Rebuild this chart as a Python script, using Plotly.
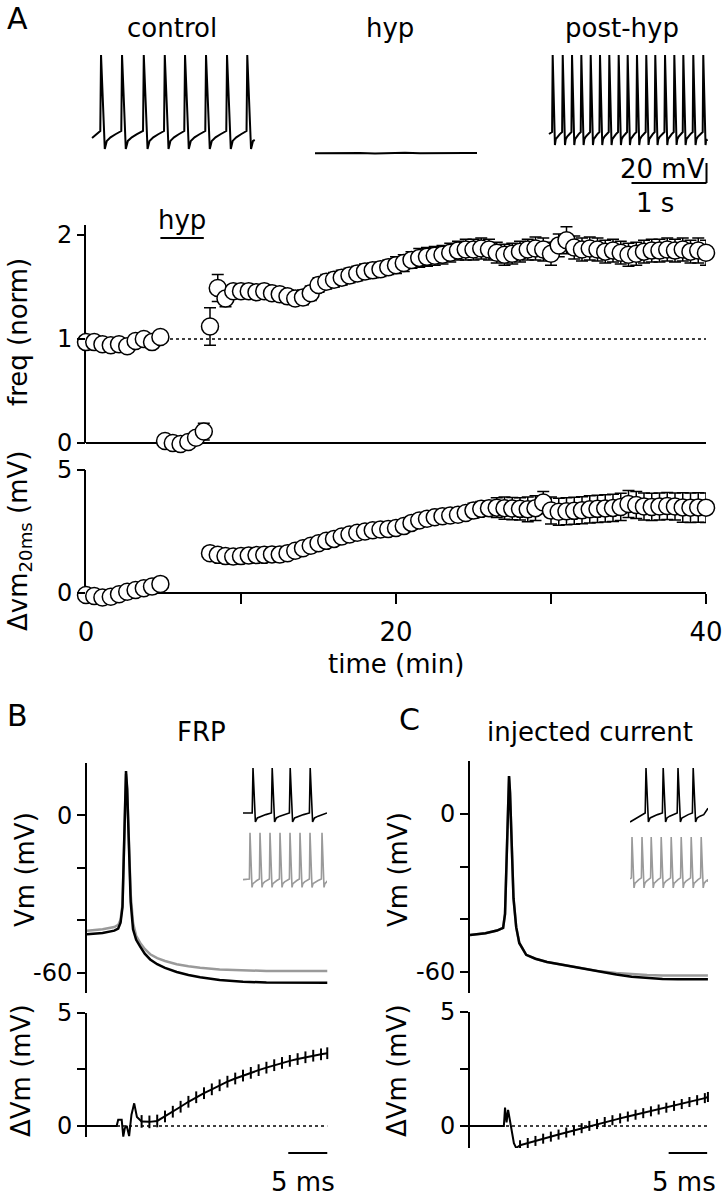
import plotly.graph_objects as go

W, H = 726, 1199
def px(x): return x / W
def py(y): return 1 - y / H

FONT = "DejaVu Sans"
GRAY = "#9a9a9a"

# ---------------- DATA ----------------
# Panel A example recordings (time in s, Vm in mV)
ctrl_spikes_s = [0.12, 0.40, 0.69, 0.97, 1.24, 1.52, 1.80, 2.07]
ctrl_dur_s = 2.17
post_spikes_s = [0.049, 0.183, 0.307, 0.431, 0.556, 0.680, 0.804, 0.929, 1.049,
                 1.173, 1.297, 1.417, 1.547, 1.671, 1.791, 1.924, 2.057]
post_dur_s = 2.11
hyp_t_s = [0.0, 0.2, 0.4, 0.6, 0.8, 1.0, 1.2, 1.4, 1.6, 1.8, 2.0, 2.16]
hyp_vm = [-69.2, -69.0, -69.4, -69.1, -69.5, -69.0, -68.7, -69.2, -68.9, -69.1, -68.9, -69.0]

# Panel A time course (min)
t_ctrl = [0.0, 0.53, 1.06, 1.6, 2.13, 2.66, 3.2, 3.73, 4.26, 4.8]
freq_ctrl = [0.97, 0.97, 0.95, 0.94, 0.95, 0.93, 0.98, 1.00, 0.97, 1.02]
freq_ctrl_err = [0.03, 0.03, 0.03, 0.03, 0.03, 0.03, 0.03, 0.03, 0.03, 0.03]
vm_ctrl = [-0.08, -0.12, -0.18, -0.15, -0.05, 0.05, 0.12, 0.19, 0.26, 0.37]
vm_ctrl_err = [0.05, 0.05, 0.05, 0.05, 0.05, 0.05, 0.05, 0.05, 0.05, 0.05]

t_hyp = [5.1, 5.6, 6.1, 6.6, 7.1, 7.6]
freq_hyp = [0.02, 0.0, -0.01, 0.01, 0.05, 0.11]
freq_hyp_err = [0.02, 0.01, 0.01, 0.02, 0.04, 0.08]

t_post = [8.0, 8.5, 9.0, 9.5, 10.0, 10.5, 11.0, 11.5, 12.0, 12.5, 13.0, 13.5, 14.0,
          14.5, 15.0, 15.5, 16.0, 16.5, 17.0, 17.5, 18.0, 18.5, 19.0, 19.5, 20.0,
          20.5, 21.0, 21.5, 22.0, 22.5, 23.0, 23.5, 24.0, 24.5, 25.0, 25.5, 26.0,
          26.5, 27.0, 27.5, 28.0, 28.5, 29.0, 29.5, 30.0, 30.5, 31.0, 31.5, 32.0,
          32.5, 33.0, 33.5, 34.0, 34.5, 35.0, 35.5, 36.0, 36.5, 37.0, 37.5, 38.0,
          38.5, 39.0, 39.5, 40.0]
freq_post = [1.12, 1.49, 1.39, 1.46, 1.46, 1.46, 1.45, 1.46, 1.44, 1.43, 1.41, 1.39, 1.40,
             1.44, 1.52, 1.55, 1.57, 1.59, 1.61, 1.63, 1.65, 1.66, 1.67, 1.69, 1.71,
             1.73, 1.76, 1.78, 1.79, 1.80, 1.81, 1.83, 1.85, 1.86, 1.86, 1.87, 1.86,
             1.83, 1.81, 1.82, 1.84, 1.86, 1.87, 1.86, 1.82, 1.90, 1.95, 1.88, 1.86,
             1.87, 1.86, 1.84, 1.85, 1.83, 1.81, 1.82, 1.84, 1.85, 1.85, 1.86, 1.85,
             1.86, 1.84, 1.85, 1.83]
freq_post_err = [0.18, 0.13, 0.08, 0.06, 0.06, 0.06, 0.06, 0.06, 0.06, 0.06, 0.06, 0.06, 0.07,
                 0.07, 0.07, 0.07, 0.07, 0.07, 0.07, 0.07, 0.07, 0.07, 0.07, 0.07, 0.08,
                 0.08, 0.08, 0.09, 0.09, 0.09, 0.09, 0.09, 0.09, 0.10, 0.10, 0.10, 0.10,
                 0.10, 0.10, 0.10, 0.10, 0.10, 0.11, 0.11, 0.11, 0.11, 0.13, 0.11, 0.11,
                 0.11, 0.11, 0.11, 0.11, 0.11, 0.11, 0.11, 0.11, 0.11, 0.11, 0.11, 0.11,
                 0.11, 0.11, 0.12, 0.12]
vm_post = [1.62, 1.55, 1.50, 1.48, 1.50, 1.52, 1.54, 1.55, 1.57, 1.56, 1.62, 1.72, 1.82,
           1.92, 2.02, 2.12, 2.20, 2.30, 2.38, 2.45, 2.50, 2.55, 2.58, 2.60, 2.64,
           2.72, 2.85, 2.95, 3.02, 3.08, 3.12, 3.15, 3.18, 3.25, 3.35, 3.42, 3.45,
           3.47, 3.45, 3.43, 3.42, 3.40, 3.45, 3.68, 3.35, 3.30, 3.32, 3.34, 3.36,
           3.40, 3.42, 3.44, 3.46, 3.50, 3.62, 3.58, 3.52, 3.50, 3.52, 3.54, 3.52,
           3.48, 3.47, 3.48, 3.47]
vm_post_err = [0.12, 0.12, 0.12, 0.12, 0.12, 0.12, 0.12, 0.12, 0.12, 0.12, 0.12, 0.12, 0.12,
               0.15, 0.15, 0.15, 0.15, 0.15, 0.15, 0.15, 0.15, 0.15, 0.15, 0.15, 0.15,
               0.25, 0.25, 0.25, 0.25, 0.25, 0.25, 0.25, 0.25, 0.25, 0.30, 0.30, 0.30,
               0.40, 0.45, 0.45, 0.45, 0.50, 0.50, 0.45, 0.55, 0.55, 0.55, 0.55, 0.55,
               0.55, 0.55, 0.55, 0.55, 0.55, 0.55, 0.55, 0.55, 0.55, 0.55, 0.55, 0.55,
               0.60, 0.60, 0.60, 0.60]

# Panel B, FRP (ms, mV): black = control, gray = post-hyp
b_t = [0, 2, 3.5, 4.0, 4.3, 4.55, 4.75, 4.92, 5.0, 5.15, 5.35, 5.6, 5.9, 6.3, 6.8,
       7.4, 8.1, 9, 10, 11.5, 13, 14.5, 17, 20, 23, 26, 30.8]
b_vm_black = [-45.4, -44.9, -44.0, -43.2, -41, -35, -12, 10, 16.9, 10, -8, -33, -43.5,
              -47.5, -50, -52.8, -55, -56.8, -58.2, -59.8, -60.9, -61.8, -62.8, -63.5,
              -63.8, -63.9, -63.9]
b_vm_gray = [-44.0, -43.5, -42.6, -41.8, -39.8, -34, -12, 9, 15.8, 10, -6, -30, -41,
             -46, -48.6, -51, -53, -54.5, -55.6, -56.8, -57.6, -58.2, -58.8, -59.2,
             -59.4, -59.4, -59.4]
b_dv_art_t = [0, 3.8, 4.0, 4.45, 4.65, 4.85, 5.1, 5.4, 5.7, 6.05, 6.4, 7.0]
b_dv_art = [0, 0, 0.27, 0.27, -0.47, -0.1, 0.0, -0.45, 0.5, 1.0, 0.4, 0.2]
b_dv_t = [7, 8, 9, 10, 11, 12, 13, 14, 15, 16, 17, 18, 19, 20, 21, 22, 23, 24, 25,
          26, 27, 28, 29, 30, 30.8]
b_dv = [0.2, 0.18, 0.22, 0.42, 0.63, 0.85, 1.07, 1.27, 1.45, 1.62, 1.8, 1.96, 2.1,
        2.23, 2.35, 2.47, 2.58, 2.69, 2.79, 2.88, 2.96, 3.04, 3.11, 3.17, 3.22]
b_dv_err = [0.28, 0.28, 0.28, 0.26, 0.26, 0.26, 0.26, 0.26, 0.26, 0.26, 0.26, 0.26,
            0.26, 0.26, 0.26, 0.26, 0.26, 0.26, 0.26, 0.26, 0.26, 0.26, 0.26, 0.26, 0.26]

# Panel C, injected current (ms, mV)
c_t = [0, 2, 3.5, 4.3, 4.55, 4.75, 4.95, 5.07, 5.2, 5.4, 5.65, 6.0, 6.4, 7.3, 8.5,
       10, 12, 14, 16.5, 19, 21, 23, 25, 27, 29, 30.9]
c_vm_black = [-46, -45.3, -44.3, -43.3, -38, -15, 10, 14.4, 8, -10, -32, -43, -49,
              -53.5, -55, -56.2, -57.3, -58.5, -59.9, -61, -61.8, -62.3, -62.7,
              -62.8, -62.8, -62.8]
c_vm_gray = [-46, -45.3, -44.3, -43.3, -38, -15, 10, 14.4, 8, -10, -32, -43, -49,
             -53.5, -55, -56.2, -57.3, -58.4, -59.6, -60.4, -60.9, -61.2, -61.4,
             -61.4, -61.4, -61.4]
c_dv_art_t = [0, 4.4, 4.55, 4.75, 4.95, 5.3, 5.7, 6.0, 6.5]
c_dv_art = [0, 0, 0.8, 0.15, 0.7, 0.0, -0.76, -0.97, -0.85]
c_dv_t = [6.5, 7.5, 8.5, 9.5, 10.5, 11.5, 12.5, 13.5, 14.5, 15.5, 16.5, 17.5, 18.5,
          19.5, 20.5, 21.5, 22.5, 23.5, 24.5, 25.5, 26.5, 27.5, 28.5, 29.5, 30.5, 30.9]
c_dv = [-0.85, -0.75, -0.66, -0.56, -0.47, -0.38, -0.29, -0.2, -0.1, 0.0, 0.08, 0.17,
        0.25, 0.33, 0.41, 0.49, 0.56, 0.64, 0.72, 0.8, 0.88, 0.96, 1.05, 1.13, 1.22, 1.27]
c_dv_err = [0.22] * 26

# Insets (s, mV)
b_in_black_spikes = [0.25, 0.73, 1.18, 1.68]
b_in_gray_spikes = [0.175, 0.425, 0.675, 0.925, 1.175, 1.425, 1.675, 1.975]
c_in_black_spikes = [0.40, 0.83, 1.20, 1.58]
c_in_gray_spikes = [0.05, 0.30, 0.53, 0.78, 1.03, 1.28, 1.53, 1.78]

# shape of the interspike recovery (fraction of interval, fraction of trough->threshold)
RECOV_T = [0.0, 0.12, 0.35, 0.65, 1.0]
RECOV_V = [0.0, 0.45, 0.65, 0.82, 1.0]


def spike_train(spikes, dur, v_start, v_thr, v_peak, v_trough, v_end, t_rise, t_fall):
    ts, vs = [0.0], [v_start]
    isi = (spikes[-1] - spikes[0]) / (len(spikes) - 1)
    for i, s in enumerate(spikes):
        ts += [s - t_rise, s, s + t_fall]
        vs += [v_thr, v_peak, v_trough]
        nxt = spikes[i + 1] - t_rise if i + 1 < len(spikes) else s + isi - t_rise
        span = nxt - (s + t_fall)
        for ft, fv in zip(RECOV_T[1:-1], RECOV_V[1:-1]):
            tt = s + t_fall + ft * span
            if tt < dur:
                ts.append(tt)
                vs.append(v_trough + fv * (v_thr - v_trough))
    ts.append(dur)
    vs.append(v_end)
    return ts, vs


fig = go.Figure()

# ---- A: example traces ----
OFF_CTRL, OFF_HYP, OFF_POST = 1.227, 4.2, 7.32
ct, cv = spike_train(ctrl_spikes_s, ctrl_dur_s, -54, -47, 29, -65, -56, 0.01, 0.05)
pt, pv = spike_train(post_spikes_s, post_dur_s, -50, -48, 29, -61, -57, 0.008, 0.03)
for tt, vv, off in [(ct, cv, OFF_CTRL), (hyp_t_s, hyp_vm, OFF_HYP), (pt, pv, OFF_POST)]:
    fig.add_trace(go.Scatter(x=[t + off for t in tt], y=vv, mode="lines",
                             line=dict(color="black", width=2), xaxis="x", yaxis="y",
                             hoverinfo="skip"))

marker = dict(symbol="circle", size=17, color="white", line=dict(color="black", width=1.5))
def err(a):
    return dict(type="data", array=a, visible=True, thickness=1.5, width=6, color="black")

for tx, fy, fe in [(t_ctrl, freq_ctrl, freq_ctrl_err), (t_hyp, freq_hyp, freq_hyp_err),
                   (t_post, freq_post, freq_post_err)]:
    fig.add_trace(go.Scatter(x=tx, y=fy, error_y=err(fe), mode="markers", marker=marker,
                             cliponaxis=False, xaxis="x2", yaxis="y2"))
for tx, fy, fe in [(t_ctrl, vm_ctrl, vm_ctrl_err), (t_post, vm_post, vm_post_err)]:
    fig.add_trace(go.Scatter(x=tx, y=fy, error_y=err(fe), mode="markers", marker=marker,
                             cliponaxis=False, xaxis="x3", yaxis="y3"))

# ---- B ----
fig.add_trace(go.Scatter(x=b_t, y=b_vm_gray, mode="lines", line=dict(color=GRAY, width=2.5),
                         xaxis="x4", yaxis="y4", cliponaxis=False))
fig.add_trace(go.Scatter(x=b_t, y=b_vm_black, mode="lines", line=dict(color="black", width=2.5),
                         xaxis="x4", yaxis="y4", cliponaxis=False))
fig.add_trace(go.Scatter(x=b_dv_art_t, y=b_dv_art, mode="lines", line=dict(color="black", width=2),
                         xaxis="x4", yaxis="y5", cliponaxis=False))
fig.add_trace(go.Scatter(x=b_dv_t, y=b_dv, mode="lines", line=dict(color="black", width=2),
                         error_y=dict(type="data", array=b_dv_err, visible=True, thickness=2,
                                      width=0, color="black"),
                         xaxis="x4", yaxis="y5", cliponaxis=False))
# ---- C ----
fig.add_trace(go.Scatter(x=c_t, y=c_vm_gray, mode="lines", line=dict(color=GRAY, width=2.5),
                         xaxis="x6", yaxis="y6", cliponaxis=False))
fig.add_trace(go.Scatter(x=c_t, y=c_vm_black, mode="lines", line=dict(color="black", width=2.5),
                         xaxis="x6", yaxis="y6", cliponaxis=False))
fig.add_trace(go.Scatter(x=c_dv_art_t, y=c_dv_art, mode="lines", line=dict(color="black", width=2),
                         xaxis="x6", yaxis="y7", cliponaxis=False))
fig.add_trace(go.Scatter(x=c_dv_t, y=c_dv, mode="lines", line=dict(color="black", width=2),
                         error_y=dict(type="data", array=c_dv_err, visible=True, thickness=2,
                                      width=0, color="black"),
                         xaxis="x6", yaxis="y7", cliponaxis=False))

# ---- insets ----
bt1, bv1 = spike_train(b_in_black_spikes, 2.1, -50, -50, 25, -65, -50, 0.02, 0.06)
bt2, bv2 = spike_train(b_in_gray_spikes, 2.1, -56, -55, 22, -69, -58, 0.015, 0.05)
ct1, cv1 = spike_train(c_in_black_spikes, 1.95, -65, -50, 25, -65, -42, 0.02, 0.06)
ct2, cv2 = spike_train(c_in_gray_spikes, 1.95, -55, -53, 15, -70, -60, 0.015, 0.05)
for tt, vv, col, xa, ya in [(bt1, bv1, "black", "x8", "y8"), (bt2, bv2, GRAY, "x8", "y9"),
                            (ct1, cv1, "black", "x10", "y10"), (ct2, cv2, GRAY, "x10", "y11")]:
    fig.add_trace(go.Scatter(x=tt, y=vv, mode="lines", line=dict(color=col, width=1.6),
                             xaxis=xa, yaxis=ya, cliponaxis=False))

# ---------------- LAYOUT ----------------
FS = 26
TFS = 24
hid = dict(visible=False, showgrid=False, zeroline=False, fixedrange=True)
tickf = dict(family=FONT, size=TFS, color="black")

def minor(vals, ticklen=8):
    return dict(tickvals=vals, ticks="outside", ticklen=ticklen, tickwidth=2,
                tickcolor="black", showgrid=False)

def yax(dom, rng, anchor, tv, mv=None, showline=True, ticklen=8):
    d = dict(domain=dom, range=rng, anchor=anchor, showline=showline, linewidth=2,
             linecolor="black", ticks="outside", ticklen=ticklen, tickwidth=2,
             tickcolor="black", tickmode="array", tickvals=tv,
             ticktext=[str(v) for v in tv], tickfont=tickf,
             showgrid=False, zeroline=False, fixedrange=True)
    if mv:
        d["minor"] = minor(mv, ticklen)
    return d

# freq axis: 104 px per unit, zero at y=443 px
F_LO, F_HI = -0.15, 2.11
V_LO, V_HI = -0.5, 5.05   # 24.6 px per mV, zero at y=593 px

layout = dict(
    width=W, height=H, margin=dict(l=0, r=0, t=0, b=0), template="none",
    paper_bgcolor="white", plot_bgcolor="rgba(0,0,0,0)", showlegend=False,
    font=dict(family=FONT, size=FS, color="black"),
    xaxis=dict(domain=[0, 1], range=[0, 9.68], **hid),
    yaxis=dict(domain=[py(200), py(40)], range=[-116, 44], **hid),
    xaxis2=dict(domain=[px(86), px(706)], range=[0, 40], anchor="free", position=py(443),
                showline=True, linewidth=2, linecolor="black", showticklabels=False,
                ticks="", showgrid=False, zeroline=False, layer="below traces",
                fixedrange=True),
    yaxis2=yax([py(443 - F_LO * 104), py(443 - F_HI * 104)], [F_LO, F_HI], "x2",
               [0, 1, 2], showline=False),
    xaxis3=dict(domain=[px(86), px(706)], range=[0, 40], anchor="free", position=py(593),
                showline=True, linewidth=2, linecolor="black", ticks="outside", ticklen=10,
                tickwidth=2, tickcolor="black", tickmode="array", tickvals=[0, 20, 40],
                ticktext=["0", "20", "40"], minor=minor([10, 30], 10),
                tickfont=dict(family=FONT, size=FS, color="black"), ticklabelstandoff=6,
                showgrid=False, zeroline=False, layer="below traces", fixedrange=True),
    yaxis3=yax([py(593 - V_LO * 24.6), py(593 - V_HI * 24.6)], [V_LO, V_HI], "x3",
               [0, 5], showline=False),
    xaxis4=dict(domain=[px(87), px(330)], range=[0, 31.15], anchor="y4", **hid),
    yaxis4=yax([py(993), py(763)], [-67.8, 20], "x4", [0, -60], [-20, -40]),
    yaxis5=yax([py(1137), py(1013)], [-0.49, 5], "x4", [0, 5], [2.5]),
    xaxis6=dict(domain=[px(470), px(712)], range=[0, 31.43], anchor="y6", **hid),
    yaxis6=yax([py(993), py(761)], [-68, 20.1], "x6", [0, -60], [-20, -40]),
    yaxis7=yax([py(1148), py(1012)], [-0.97, 5], "x6", [0, 5], [2.5]),
    xaxis8=dict(domain=[px(243), px(327)], range=[0, 2.1], anchor="y8", **hid),
    yaxis8=dict(domain=[py(825), py(765)], range=[-70, 30], anchor="x8", **hid),
    yaxis9=dict(domain=[py(888), py(828)], range=[-70, 30], anchor="x8", **hid),
    xaxis10=dict(domain=[px(630), px(708)], range=[0, 1.95], anchor="y10", **hid),
    yaxis10=dict(domain=[py(825), py(765)], range=[-70, 30], anchor="x10", **hid),
    yaxis11=dict(domain=[py(888), py(828)], range=[-70, 30], anchor="x10", **hid),
)

LW = 2
shapes = [
    # y-axis lines of panel A (only over the data range)
    dict(type="line", xref="paper", yref="y2", x0=px(85), x1=px(85), y0=0, y1=2.096,
         line=dict(color="black", width=LW), layer="below"),
    dict(type="line", xref="paper", yref="y3", x0=px(85), x1=px(85), y0=0, y1=5,
         line=dict(color="black", width=LW), layer="below"),
    # dotted reference line at freq = 1
    dict(type="line", xref="x2", yref="y2", x0=0, x1=40, y0=1, y1=1,
         line=dict(color="black", width=1.5, dash="dot"), layer="below"),
    # hyp period bar
    dict(type="line", xref="x2", yref="paper", x0=4.8, x1=7.6, y0=py(238), y1=py(238),
         line=dict(color="black", width=LW)),
    # A scale bar 1 s / 20 mV
    dict(type="line", xref="x", yref="y", x0=8.42, x1=9.42, y0=-99, y1=-99,
         line=dict(color="black", width=LW)),
    dict(type="line", xref="x", yref="y", x0=9.42, x1=9.42, y0=-99, y1=-79,
         line=dict(color="black", width=LW)),
    # dotted zero lines
    dict(type="line", xref="x4", yref="y5", x0=0, x1=30.8, y0=0, y1=0,
         line=dict(color="black", width=1.5, dash="dot"), layer="below"),
    dict(type="line", xref="x6", yref="y7", x0=0, x1=30.9, y0=0, y1=0,
         line=dict(color="black", width=1.5, dash="dot"), layer="below"),
    # 5 ms scale bars
    dict(type="line", xref="x4", yref="paper", x0=25.8, x1=30.8, y0=py(1153), y1=py(1153),
         line=dict(color="black", width=LW)),
    dict(type="line", xref="x6", yref="paper", x0=25.8, x1=30.8, y0=py(1153), y1=py(1153),
         line=dict(color="black", width=LW)),
]

def ann(text, x, y, size=FS, angle=0, xanchor="center"):
    return dict(text=text, x=px(x), y=py(y), xref="paper", yref="paper", showarrow=False,
                textangle=angle, xanchor=xanchor, yanchor="middle",
                font=dict(family=FONT, size=size, color="black"))

annotations = [
    ann("A", 17, 19, 30), ann("B", 17, 716, 30), ann("C", 409, 719, 30),
    ann("control", 172, 28), ann("hyp", 390, 28), ann("post-hyp", 622, 28),
    ann("20 mV", 662, 169), ann("1 s", 655, 203),
    ann("hyp", 182, 220),
    ann("freq (norm)", 18, 332, angle=-90),
    ann("Δvm<sub>20ms</sub> (mV)", 20, 541, angle=-90),
    ann("time (min)", 396, 664),
    ann("FRP", 202, 732), ann("injected current", 590, 732),
    ann("Vm (mV)", 25, 870, angle=-90), ann("Vm (mV)", 398, 870, angle=-90),
    ann("ΔVm (mV)", 21, 1071, angle=-90), ann("ΔVm (mV)", 397, 1071, angle=-90),
    ann("5 ms", 303, 1182), ann("5 ms", 684, 1182),
]

layout["shapes"] = shapes
layout["annotations"] = annotations
fig.update_layout(**layout)
fig.write_html("out.html", config={"displayModeBar": False, "staticPlot": True},
               post_script="document.body.style.margin='0';document.body.style.overflow='hidden';")
